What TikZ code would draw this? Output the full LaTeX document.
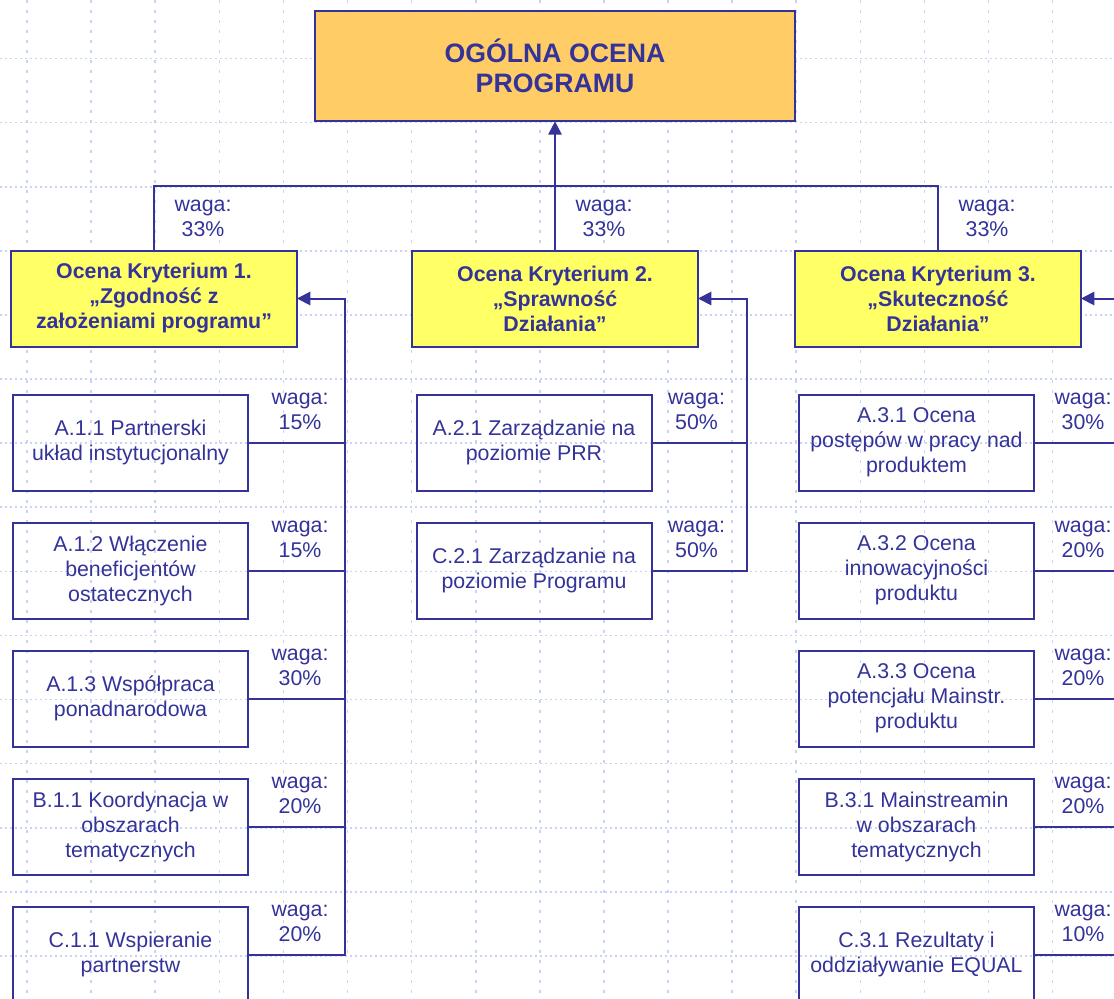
\documentclass[tikz,border=0pt]{standalone}
\usepackage{fontspec}
\setmainfont{Liberation Sans}
\usepackage{xcolor}
\usetikzlibrary{shapes,arrows.meta,positioning,calc}

\definecolor{granat}{HTML}{333399}
\definecolor{pomarancz}{HTML}{FFCC66}
\definecolor{zolty}{HTML}{FFFF66}
\definecolor{kratka}{HTML}{C8D3F5}

\begin{document}
\begin{tikzpicture}[x=0.75pt, y=-0.75pt, node distance=24pt,
  glowny/.style={rectangle, draw=granat, fill=pomarancz, line width=1.5pt, outer sep=0pt,
    minimum width=360pt, minimum height=83pt, align=center, text=granat,
    font=\fontsize{20}{22.5}\selectfont\bfseries},
  kryterium/.style={rectangle, draw=granat, fill=zolty, line width=1.5pt, outer sep=0pt,
    minimum width=214.5pt, minimum height=72pt, align=center, text=granat,
    font=\fontsize{16}{18.75}\selectfont\bfseries},
  podkryterium/.style={rectangle, draw=granat, line width=1.5pt, outer sep=0pt, inner sep=2pt,
    minimum width=176.25pt, minimum height=72pt, align=center, text=granat,
    font=\fontsize{16}{18.75}\selectfont},
  waga/.style={align=center, text=granat, inner sep=0pt, font=\fontsize{16}{18.75}\selectfont},
  polaczenie/.style={draw=granat, line width=1.5pt},
  line/.style={draw=granat, line width=1.5pt, -{Triangle[length=10pt,width=10pt]}},
  siatkapoz/.style={draw=kratka, line width=1.2pt, dash pattern=on 1.5pt off 2.25pt},
  siatkapion/.style={draw=kratka, line width=1.2pt, dash pattern=on 2pt off 5.5pt}]

  \useasboundingbox (0,0) rectangle (1114,999);
  \clip (0,0) rectangle (1114,999);
  \fill[white] (0,0) rectangle (1114,999);
  \foreach \i in {0,...,16}
    \draw[siatkapion] ({27+64.1*\i},0) -- ++(0,999);
  \foreach \i in {0,...,14}
    \draw[siatkapoz] (0,{58.5+64.1*\i}) -- ++(1114,0);

  \node[glowny] (ocena) at (555,66) {OGÓLNA OCENA\\PROGRAMU};
  \node[kryterium] (k1) at (154,298.5) {Ocena Kryterium 1.\\„Zgodność z\\założeniami programu”};
  \node[kryterium] (k2) at (555,298.5) {Ocena Kryterium 2.\\„Sprawność\\Działania”};
  \node[kryterium] (k3) at (938,298.5) {Ocena Kryterium 3.\\„Skuteczność\\Działania”};

  \node[podkryterium] (a11) at (130.5,442.7) {A.1.1 Partnerski\\układ instytucjonalny};
  \node[podkryterium, below=of a11] (a12) {A.1.2 Włączenie\\beneficjentów\\ostatecznych};
  \node[podkryterium, below=of a12] (a13) {A.1.3 Współpraca\\ponadnarodowa};
  \node[podkryterium, below=of a13] (b11) {B.1.1 Koordynacja w\\obszarach\\tematycznych};
  \node[podkryterium, below=of b11] (c11) {C.1.1 Wspieranie\\partnerstw};

  \node[podkryterium] (a21) at (534,442.7) {A.2.1 Zarządzanie na\\poziomie PRR};
  \node[podkryterium, below=of a21] (c21) {C.2.1 Zarządzanie na\\poziomie Programu};

  \node[podkryterium] (a31) at (916.5,442.7) {A.3.1 Ocena\\postępów w pracy nad\\produktem};
  \node[podkryterium, below=of a31] (a32) {A.3.2 Ocena\\innowacyjności\\produktu};
  \node[podkryterium, below=of a32] (a33) {A.3.3 Ocena\\potencjału Mainstr.\\produktu};
  \node[podkryterium, below=of a33] (b31) {B.3.1 Mainstreamin\\w obszarach\\tematycznych};
  \node[podkryterium, below=of b31] (c31) {C.3.1 Rezultaty i\\oddziaływanie EQUAL};

  \coordinate (hub) at (555,186);
  \coordinate (s1) at (345,0);
  \coordinate (s2) at (747,0);
  \coordinate (s3) at (1131,0);

  \draw[line] (k2.north) -- (ocena.south);
  \draw[polaczenie] (k1.north) |- (hub) -| (k3.north);
  \foreach \n in {k1,k2,k3}
    \node[waga] (w\n) at ($(\n.north)+(49,-32)$) {waga:\\33\%};

  \foreach \n in {a11,a12,a13,b11}
    \draw[polaczenie] (\n.east) -- (\n.east -| s1);
  \draw[line] (c11.east) -- (c11.east -| s1) |- (k1.east);
  \draw[polaczenie] (a21.east) -- (a21.east -| s2);
  \draw[line] (c21.east) -- (c21.east -| s2) |- (k2.east);
  \foreach \n in {a31,a32,a33,b31}
    \draw[polaczenie] (\n.east) -- (\n.east -| s3);
  \draw[line] (c31.east) -- (c31.east -| s3) |- (k3.east);

  \foreach \n/\w in {a11/15,a12/15,a13/30,b11/20,c11/20}
    \node[waga] (w\n) at ($(\n.east)+(52,-31)$) {waga:\\\w\%};
  \foreach \n/\w in {a21/50,c21/50}
    \node[waga] (w\n) at ($(\n.east)+(45,-31)$) {waga:\\\w\%};
  \foreach \n/\w in {a31/30,a32/20,a33/20,b31/20,c31/10}
    \node[waga] (w\n) at ($(\n.east)+(49,-31)$) {waga:\\\w\%};
\end{tikzpicture}
\end{document}
